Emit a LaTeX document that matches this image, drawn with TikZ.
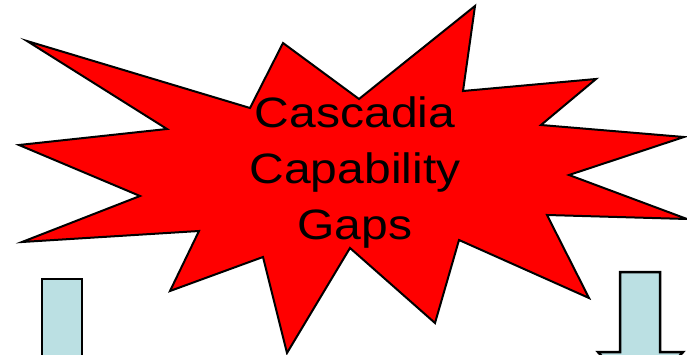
\documentclass[tikz,border=0pt]{standalone}
\usepackage{fontspec}
\setmainfont{Liberation Sans}
\newfontfamily\gapsfont[FakeStretch=1.13]{Liberation Sans}
\definecolor{burstred}{HTML}{FF0000}
\definecolor{shaftblue}{HTML}{BBE0E3}

\begin{document}
\begin{tikzpicture}[x=1pt,y=-1pt]
    \useasboundingbox (0,0) rectangle (687,355);
    % the burst
    \filldraw[fill=burstred,draw=black,line width=2pt,line join=miter]
      (19,145) -- (167,129) -- (27,41) -- (250,108) -- (283,43)
      -- (359,99) -- (475,6) -- (463,91) -- (596,79) -- (541,125)
      -- (684,137) -- (569,175) -- (687,219) -- (547,215) -- (589,298)
      -- (459,240) -- (435,323) -- (350,248) -- (287,353) -- (263,257)
      -- (170,291) -- (199,231) -- (22,242) -- (140,196) -- cycle;
    \node[align=center,text=black,inner sep=0pt,
      font=\gapsfont\fontsize{42.5}{56}\selectfont] (gapslabel) at (355,172.5)
      {Cascadia\\Capability\\Gaps};
    % the two block arrows, cut off at the bottom
    \begin{scope}
      \clip (0,0) rectangle (687,355);
      \filldraw[fill=shaftblue,draw=black,line width=2.5pt]
        (42,279) rectangle (82,380);
      \filldraw[fill=shaftblue,draw=black,line width=2.5pt,line join=miter]
        (620,272) -- (660,272) -- (660,352) -- (683,352) -- (640,400)
        -- (598,352) -- (620,352) -- cycle;
    \end{scope}
  \end{tikzpicture}
\end{document}
